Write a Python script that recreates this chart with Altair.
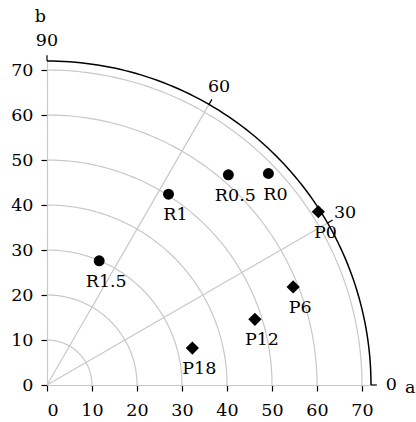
import altair as alt
import pandas as pd
import numpy as np

# ---- data ----
r_labels = ["R0", "R0.5", "R1", "R1.5"]
r_a = [49.2, 40.3, 27.0, 11.6]
r_b = [47.0, 46.7, 42.4, 27.6]

p_labels = ["P0", "P6", "P12", "P18"]
p_a = [60.3, 54.7, 46.2, 32.3]
p_b = [38.5, 21.8, 14.6, 8.2]

axis_ticks = [0, 10, 20, 30, 40, 50, 60, 70]
grid_radii = [10, 20, 30, 40, 50, 60, 70]
outer_radius = 72
spoke_angles = [30, 60]
angle_labels = [0, 30, 60, 90]
angle_label_radius = 76.5
tick_outer_radius = 73.3

FONT = "DejaVu Serif"
FS = 17.5
GRID = "#c8c8c8"

xs = alt.Scale(domain=[0, outer_radius], nice=False, zero=False)
ys = alt.Scale(domain=[0, outer_radius], nice=False, zero=False)
xaxis = alt.Axis(values=axis_ticks, title=None, grid=False, labelPadding=10)
yaxis = alt.Axis(values=axis_ticks, title=None, grid=False, labelPadding=8)

def X(f="a"):
    return alt.X(f"{f}:Q", scale=xs, axis=xaxis)

def Y(f="b"):
    return alt.Y(f"{f}:Q", scale=ys, axis=yaxis)

# arcs (grid circles) built from radii
deg = np.arange(0, 90.5, 1.0)
arc_rows = []
for r in grid_radii:
    for d in deg:
        t = np.deg2rad(d)
        arc_rows.append({"r": r, "deg": d, "a": r * np.cos(t), "b": r * np.sin(t)})
arcs_df = pd.DataFrame(arc_rows)
outer_df = pd.DataFrame([{"deg": d, "a": outer_radius * np.cos(np.deg2rad(d)),
                          "b": outer_radius * np.sin(np.deg2rad(d))} for d in deg])

spokes_df = pd.DataFrame([{"a": 0.0, "b": 0.0,
                           "a2": outer_radius * np.cos(np.deg2rad(s)),
                           "b2": outer_radius * np.sin(np.deg2rad(s))} for s in spoke_angles])

aticks_df = pd.DataFrame([{"a": outer_radius * np.cos(np.deg2rad(s)),
                           "b": outer_radius * np.sin(np.deg2rad(s)),
                           "a2": tick_outer_radius * np.cos(np.deg2rad(s)),
                           "b2": tick_outer_radius * np.sin(np.deg2rad(s))} for s in angle_labels])

alabels_df = pd.DataFrame([{"a": angle_label_radius * np.cos(np.deg2rad(s)),
                            "b": angle_label_radius * np.sin(np.deg2rad(s)),
                            "t": str(s)} for s in angle_labels])

names_df = pd.DataFrame({"a": [80.7, -1.5], "b": [-0.6, 81.8], "t": ["a", "b"]})

r_df = pd.DataFrame({"a": r_a, "b": r_b, "t": r_labels})
p_df = pd.DataFrame({"a": p_a, "b": p_b, "t": p_labels})

arcs = alt.Chart(arcs_df).mark_line(color=GRID, strokeWidth=1.2).encode(
    x=X(), y=Y(), detail="r:N", order="deg:Q")
spokes = alt.Chart(spokes_df).mark_rule(color=GRID, strokeWidth=1.2).encode(
    x=X(), y=Y(), x2="a2:Q", y2="b2:Q")
outer = alt.Chart(outer_df).mark_line(color="black", strokeWidth=1.5).encode(
    x=X(), y=Y(), order="deg:Q")
aticks = alt.Chart(aticks_df).mark_rule(color="black", strokeWidth=1.2).encode(
    x=X(), y=Y(), x2="a2:Q", y2="b2:Q")
alabels = alt.Chart(alabels_df).mark_text(font=FONT, fontSize=FS, color="black",
                                          align="center", baseline="middle").encode(
    x=X(), y=Y(), text="t:N")
names = alt.Chart(names_df).mark_text(font=FONT, fontSize=FS, color="black",
                                      align="center", baseline="middle").encode(
    x=X(), y=Y(), text="t:N")

r_pts = alt.Chart(r_df).mark_point(shape="circle", filled=True, color="black",
                                   size=120, opacity=1).encode(x=X(), y=Y())
p_pts = alt.Chart(p_df).mark_point(shape="diamond", filled=True, color="black",
                                   size=175, opacity=1).encode(x=X(), y=Y())
lab_style = dict(font=FONT, fontSize=FS, color="black", align="center",
                 baseline="middle", dx=7, dy=21)
r_txt = alt.Chart(r_df).mark_text(**lab_style).encode(x=X(), y=Y(), text="t:N")
p_txt = alt.Chart(p_df).mark_text(**lab_style).encode(x=X(), y=Y(), text="t:N")

chart = alt.layer(arcs, spokes, outer, aticks, alabels, names,
                  r_pts, p_pts, r_txt, p_txt).properties(
    width=324, height=324,
    autosize=alt.AutoSizeParams(type="none"),
    padding={"left": 47, "top": 61, "right": 45, "bottom": 37},
    background="white",
).configure_view(stroke=None).configure_axis(
    domainColor=GRID, domainWidth=1.2, tickColor="black", tickSize=6, tickWidth=1.2,
    labelFont=FONT, labelFontSize=FS, labelColor="black",
)

chart.save("out.html", embed_options={"renderer": "svg", "actions": False})
